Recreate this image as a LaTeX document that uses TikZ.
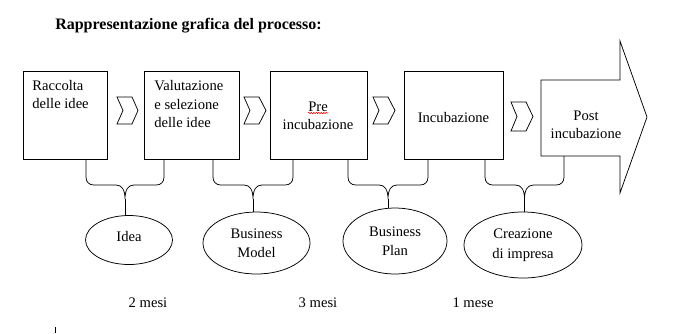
\documentclass[tikz,border=0pt]{standalone}
\usepackage{fontspec}
\setmainfont{Liberation Serif}
\usetikzlibrary{shapes.geometric,decorations.pathmorphing}
\begin{document}
\begin{tikzpicture}[x=1pt,y=-1pt, line width=0.75pt,
  stepbox/.style={draw, rectangle, minimum height=88pt, inner sep=0pt},
  txt/.style={font=\fontsize{14.6}{18.5}\selectfont, inner sep=0pt},
  oval/.style={draw, ellipse, inner sep=0pt, align=center, font=\fontsize{14.6}{19.5}\selectfont},
  chev/.style={draw, line join=miter},
  ]
\useasboundingbox (0,0) rectangle (688,333);
% title
\node[font=\fontsize{16}{19}\selectfont\bfseries, inner sep=0pt] (title) at (188.5,26) {Rappresentazione grafica del processo:};
% boxes
\node[stepbox, minimum width=84pt] (b1) at (65,115) {};
\node[stepbox, minimum width=95pt] (b2) at (191.5,115) {};
\node[stepbox, minimum width=97pt] (b3) at (318.5,115) {};
\node[stepbox, minimum width=99pt] (b4) at (453.5,115) {};
\draw (541,80) -- (620,80) -- (620,41) -- (647,117) -- (620,193) -- (620,156) -- (541,156) -- cycle;
\coordinate (arr) at (580,156);
% texts
\node[txt, anchor=west, align=left] (t1) at (32,94.5) {Raccolta\\delle idee};
\node[txt, anchor=west, align=left] (t2) at (154,104.5) {Valutazione\\e selezione\\delle idee};
\node[txt, align=center] (t3) at (318,116) {Pre\\incubazione};
\node[txt] (t4) at (453.5,118) {Incubazione};
\node[txt, align=center] (t5) at (586,125) {Post\\incubazione};
\draw[red, line width=0.5pt, decorate, decoration={snake, amplitude=0.7pt, segment length=2.5pt}] (308,113) -- (328,113);
% chevrons
\draw[chev] (117,97) -- (132,97) -- (138,110.5) -- (132,124) -- (117,124) -- (123,110.5) -- cycle;
\draw[chev] (244,97) -- (259,97) -- (266,110.5) -- (259,124) -- (244,124) -- (250,110.5) -- cycle;
\draw[chev] (373,97) -- (388,97) -- (395,110.5) -- (388,124) -- (373,124) -- (379,110.5) -- cycle;
\draw[chev] (511,102) -- (526,102) -- (533,116.5) -- (526,131) -- (511,131) -- (517,116.5) -- cycle;
% ellipses
\node[oval, minimum width=87pt, minimum height=49pt] (e1) at (129,240) {\raisebox{3.5pt}[\height][\depth]{Idea}};
\node[oval, minimum width=107pt, minimum height=62pt] (e2) at (256.5,243) {Business\\Model};
\node[oval, minimum width=104pt, minimum height=66pt] (e3) at (395,241) {Business\\Plan};
\node[oval, minimum width=118pt, minimum height=66pt] (e4) at (523,245) {Creazione\\di impresa};
% braces
\foreach \l/\r/\bl/\br/\e in {86/164/b1/b2/e1, 213/293/b2/b3/e2, 348/428/b3/b4/e3, 485/564/b4/arr/e4}{
  \pgfmathsetmacro\c{(\l+\r)/2}
  \coordinate (tip) at (\c,199);
  \draw (\l,0 |- \bl.south) -- (\l,177) .. controls (\l,182) and (\l+3,185) .. (\l+8,185)
     -- (\c-9,185) .. controls (\c-3,185) and (\c,190) .. (tip)
     .. controls (\c,190) and (\c+3,185) .. (\c+9,185)
     -- (\r-8,185) .. controls (\r-3,185) and (\r,182) .. (\r,177) -- (\r,0 |- \br.south);
  \draw (tip) -- (tip |- \e.north);
}
% durations
\node[txt] (m1) at (148,303) {2 mesi};
\node[txt] (m2) at (318,303) {3 mesi};
\node[txt] (m3) at (473,303) {1 mese};
\coordinate (k1) at (55,327);
\coordinate (k2) at (55,333);
\draw[line width=0.6pt] (k1) -- (k2);
\end{tikzpicture}
\end{document}
